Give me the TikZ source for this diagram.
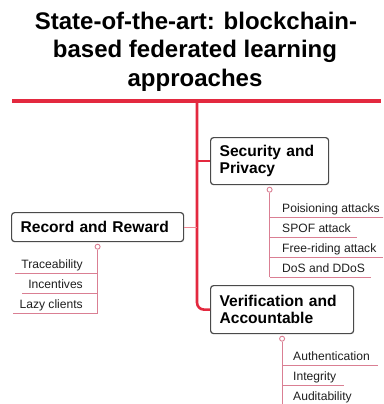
\documentclass[tikz,border=0pt]{standalone}
\usepackage{fontspec}
\setmainfont{Liberation Sans}
\usetikzlibrary{calc}

\definecolor{trunkred}{HTML}{E3293F}
\definecolor{leafpink}{HTML}{DA7F93}
\definecolor{boxline}{HTML}{4A4A4A}
\definecolor{leaftext}{HTML}{1E1E1E}

\begin{document}
\begin{tikzpicture}[x=1pt,y=-1pt,
  titletext/.style={font=\fontsize{24}{28}\selectfont\bfseries, inner sep=0pt, anchor=base},
  topicbox/.style={draw=boxline, line width=1.2pt, rounded corners=3pt, fill=white,
    anchor=north west, inner xsep=9pt, inner ysep=0pt, align=left,
    font=\fontsize{15.6}{17.5}\selectfont\bfseries},
  leaf/.style={font=\fontsize{12.1}{14}\selectfont, text=leaftext, inner sep=0pt},
  leafline/.style={draw=leafpink, line width=0.9pt},
  knob/.style={circle, draw=leafpink, fill=white, line width=0.9pt, minimum size=5pt, inner sep=0pt},
  trunk/.style={draw=trunkred, line width=2.6pt},
  bar/.style={draw=trunkred, line width=3.5pt},
]
\useasboundingbox (0,0) rectangle (383,404);
\clip (0,0) rectangle (383,404);

% title
\node[titletext] (title1) at (196,30) {State-of-the-art: blockchain-};
\node[titletext] (title2) at (195,58) {based federated learning};
\node[titletext] (title3) at (195,86) {approaches};

% main bar
\coordinate (barL) at (12,101);
\coordinate (barR) at (381,101);
\coordinate (root) at (197,101);
\draw[bar] (barL) -- (barR);

% main topics
\node[topicbox, minimum width=118pt, minimum height=47pt, text width=100pt]
  (sec) at (210,137) {Security and\\Privacy};
\node[topicbox, minimum width=172pt, minimum height=29pt, text width=154pt]
  (rec) at (11,212) {Record and Reward};
\node[topicbox, minimum width=143pt, minimum height=48pt, text width=125pt]
  (ver) at (210,285) {Verification and\\Accountable};

% trunk and branches
\draw[trunk, rounded corners=7pt] (root) -- (root |- ver.west) -- (ver.west);
\draw[draw=trunkred, line width=1.3pt] (root |- sec.west) -- (sec.west);
\draw[draw=trunkred!55, line width=1pt] (rec.east) -- (root |- rec.east);

% knobs under the topics
\node[knob] (secknob) at ([yshift=-4.5pt]sec.south) {};
\node[knob] (recknob) at ([yshift=-4.5pt]rec.south) {};
\node[knob] (verknob) at ([yshift=-4.5pt]ver.south) {};

% Security and Privacy leaves
\node[leaf, anchor=base west] (sp1) at (282,212.5) {Poisioning attacks};
\node[leaf, anchor=base west] (sp2) at (282,232.5) {SPOF attack};
\node[leaf, anchor=base west] (sp3) at (282,252.5) {Free-riding attack};
\node[leaf, anchor=base west] (sp4) at (282,272.5) {DoS and DDoS};
\draw[leafline] (secknob.south) -- ($(secknob |- sp4.base)+(0,4.5)$);
\foreach \n in {sp1,sp2,sp3,sp4}
  \draw[leafline] ($(secknob |- \n.base)+(0,4.5)$) -- ($(\n.base east)+(6,4.5)$);

% Record and Reward leaves
\node[leaf, anchor=base east] (rr1) at (83,268.5) {Traceability};
\node[leaf, anchor=base east] (rr2) at (83,288.5) {Incentives};
\node[leaf, anchor=base east] (rr3) at (83,308.5) {Lazy clients};
\draw[leafline] (recknob.south) -- ($(recknob |- rr3.base)+(0,4.5)$);
\foreach \n in {rr1,rr2,rr3}
  \draw[leafline] ($(recknob |- \n.base)+(0,4.5)$) -- ($(\n.base west)+(-6,4.5)$);

% Verification and Accountable leaves
\node[leaf, anchor=base west] (va1) at (293,360.5) {Authentication};
\node[leaf, anchor=base west] (va2) at (293,380.5) {Integrity};
\node[leaf, anchor=base west] (va3) at (293,400.5) {Auditability};
\draw[leafline] (verknob.south) -- ($(verknob |- va3.base)+(0,4.5)$);
\foreach \n in {va1,va2,va3}
  \draw[leafline] ($(verknob |- \n.base)+(0,4.5)$) -- ($(\n.base east)+(8,4.5)$);
\end{tikzpicture}
\end{document}
